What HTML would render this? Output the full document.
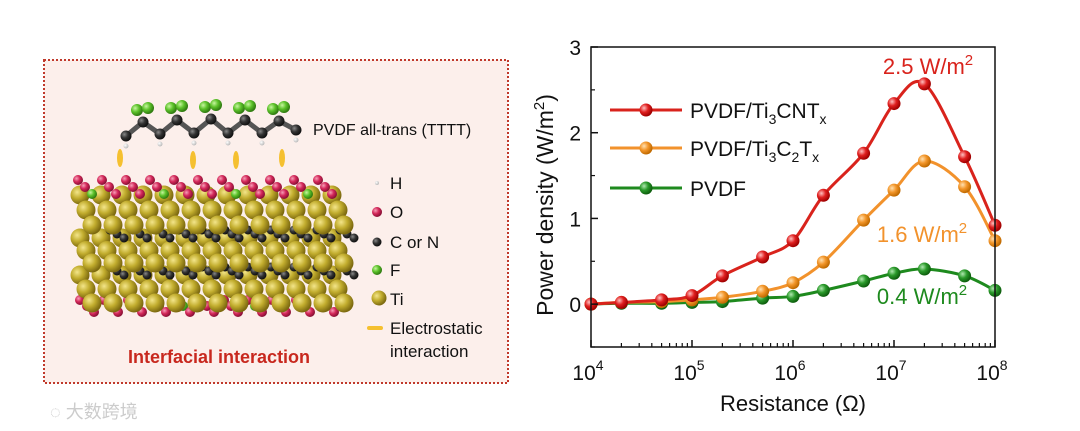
<!DOCTYPE html>
<html><head><meta charset="utf-8"><style>
body{margin:0;background:#fff;width:1080px;height:431px;overflow:hidden;font-family:"Liberation Sans","Noto Sans CJK SC",sans-serif}
svg{position:absolute;left:0;top:0}
</style></head><body>
<svg id="s" width="1080" height="431" viewBox="0 0 1080 431">
<defs>
<radialGradient id="gTi" cx="35%" cy="35%" r="65%"><stop offset="0" stop-color="#f3e58a"/><stop offset="0.5" stop-color="#c2ad2e"/><stop offset="1" stop-color="#7d6a10"/></radialGradient>
<radialGradient id="gO" cx="35%" cy="35%" r="65%"><stop offset="0" stop-color="#f6a0b8"/><stop offset="0.5" stop-color="#d4285a"/><stop offset="1" stop-color="#8a1035"/></radialGradient>
<radialGradient id="gC" cx="35%" cy="35%" r="65%"><stop offset="0" stop-color="#888"/><stop offset="0.5" stop-color="#333"/><stop offset="1" stop-color="#111"/></radialGradient>
<radialGradient id="gF" cx="35%" cy="35%" r="65%"><stop offset="0" stop-color="#c8f5a0"/><stop offset="0.5" stop-color="#5cc22a"/><stop offset="1" stop-color="#2f7a10"/></radialGradient>
<radialGradient id="gH" cx="35%" cy="35%" r="65%"><stop offset="0" stop-color="#fff"/><stop offset="1" stop-color="#bbb"/></radialGradient>
<radialGradient id="gR" cx="35%" cy="35%" r="65%"><stop offset="0" stop-color="#ffc0c0"/><stop offset="0.5" stop-color="#e02020"/><stop offset="1" stop-color="#a00000"/></radialGradient>
<radialGradient id="gOr" cx="35%" cy="35%" r="65%"><stop offset="0" stop-color="#ffe0b0"/><stop offset="0.5" stop-color="#f3962a"/><stop offset="1" stop-color="#c06a00"/></radialGradient>
<radialGradient id="gG" cx="35%" cy="35%" r="65%"><stop offset="0" stop-color="#b0e8b0"/><stop offset="0.5" stop-color="#2a9a2a"/><stop offset="1" stop-color="#0e5e0e"/></radialGradient>
</defs>
<rect x="44" y="60" width="464" height="323" fill="#fcefeb" stroke="#c0392b" stroke-width="2" stroke-dasharray="2,2"/>
<g id="mol"></g>
<text x="313" y="135" font-size="16" fill="#111">PVDF all-trans (TTTT)</text>
<g font-size="17" fill="#111">
<circle cx="377" cy="183" r="2" fill="url(#gH)"/><text x="390" y="189">H</text>
<circle cx="377" cy="212" r="5" fill="url(#gO)"/><text x="390" y="218">O</text>
<circle cx="377" cy="242" r="4.5" fill="url(#gC)"/><text x="390" y="248">C or N</text>
<circle cx="377" cy="270" r="5" fill="url(#gF)"/><text x="390" y="276">F</text>
<circle cx="379" cy="298" r="7.5" fill="url(#gTi)"/><text x="390" y="305">Ti</text>
<rect x="367" y="326" width="16" height="4" rx="2" fill="#f5c030"/><text x="390" y="334">Electrostatic</text><text x="390" y="357">interaction</text>
</g>
<text x="128" y="363" font-size="18" font-weight="bold" fill="#c8281e">Interfacial interaction</text>
<text x="50" y="418" font-size="18" fill="#ccc">◌ 大数跨境</text>
<g id="chart"></g>
</svg>
<script>
const resistances=[1e4,2e4,5e4,1e5,2e5,5e5,1e6,2e6,5e6,1e7,2e7,5e7,1e8];
const ti3cnt=[0,0.02,0.05,0.1,0.33,0.55,0.74,1.27,1.76,2.34,2.57,1.72,0.92];
const ti3c2=[0,0.02,0.03,0.05,0.08,0.15,0.25,0.49,0.98,1.33,1.67,1.37,0.74];
const pvdf=[0,0.01,0.01,0.02,0.03,0.07,0.09,0.16,0.27,0.36,0.41,0.33,0.16];
const yTicks=[0,1,2,3];
const xTickExp=[4,5,6,7,8];
const seriesNames=["PVDF/Ti3CNTx","PVDF/Ti3C2Tx","PVDF"];
const peakLabels=["2.5 W/m","1.6 W/m","0.4 W/m"];

const NS="http://www.w3.org/2000/svg";
function mk(t,a,p){const e=document.createElementNS(NS,t);for(const k in a)e.setAttribute(k,a[k]);p.appendChild(e);return e;}
const X0=591,X1=995,Y0=347,Y1=47,ymin=-0.5,ymax=3;
const sx=v=>X0+(Math.log10(v)-4)/4*(X1-X0);
const sy=v=>Y0-(v-ymin)/(ymax-ymin)*(Y0-Y1);
const C=document.getElementById('chart');

function smooth(pts){let d=`M${pts[0][0]},${pts[0][1]}`;for(let i=0;i<pts.length-1;i++){const p0=pts[i-1]||pts[i],p1=pts[i],p2=pts[i+1],p3=pts[i+2]||p2;const c1=[p1[0]+(p2[0]-p0[0])/6,p1[1]+(p2[1]-p0[1])/6],c2=[p2[0]-(p3[0]-p1[0])/6,p2[1]-(p3[1]-p1[1])/6];d+=`C${c1[0]},${c1[1]} ${c2[0]},${c2[1]} ${p2[0]},${p2[1]}`;}return d;}
const colors=["#d9231c","#f2922c","#1e8a1e"],grads=["url(#gR)","url(#gOr)","url(#gG)"];
const data=[ti3cnt,ti3c2,pvdf];
[2,1,0].forEach(si=>{
  const pts=resistances.map((r,i)=>[sx(r),sy(data[si][i])]);
  const p=mk('path',{d:smooth(pts),fill:'none',stroke:colors[si],'stroke-width':3},C);
  
  
  pts.forEach((q,i)=>{const c=mk('circle',{cx:q[0],cy:q[1],r:6.5,fill:grads[si]},C);
    
    });
});
const box=mk('rect',{x:X0,y:Y1,width:X1-X0,height:Y0-Y1,fill:'none',stroke:'#111','stroke-width':1.5},C);


yTicks.forEach(v=>{mk('line',{x1:X0,x2:X0+7,y1:sy(v),y2:sy(v),stroke:'#111','stroke-width':1.5},C);
  const t=mk('text',{x:X0-10,y:sy(v)+8,'font-size':21,'text-anchor':'end',fill:'#111'},C);t.textContent=v;
  
  });
[-0.5,0.5,1.5,2.5].forEach(v=>mk('line',{x1:X0,x2:X0+4,y1:sy(v),y2:sy(v),stroke:'#111','stroke-width':1.2},C));
xTickExp.forEach(e=>{const x=sx(Math.pow(10,e));mk('line',{x1:x,x2:x,y1:Y0,y2:Y0-7,stroke:'#111','stroke-width':1.5},C);
  const t=mk('text',{x:x-3,y:Y0+33,'font-size':21,'text-anchor':'middle',fill:'#111'},C);t.innerHTML='10<tspan dy="-10" font-size="14">'+e+'</tspan>';
  
  
  if(e<8)for(let m=2;m<10;m++){const xm=sx(m*Math.pow(10,e));mk('line',{x1:xm,x2:xm,y1:Y0,y2:Y0-4,stroke:'#111','stroke-width':1.2},C);}});
let t=mk('text',{x:793,y:411,'font-size':22,'text-anchor':'middle',fill:'#111'},C);t.textContent='Resistance (Ω)';

t=mk('text',{x:0,y:0,'font-size':23,'text-anchor':'middle',fill:'#111',transform:'translate(553,205) rotate(-90)'},C);t.innerHTML='Power density (W/m<tspan dy="-9" font-size="15">2</tspan><tspan dy="9">)</tspan>';

const legY=[110,148,188];
const legHTML=['PVDF/Ti<tspan dy="6" font-size="14">3</tspan><tspan dy="-6">CNT</tspan><tspan dy="6" font-size="14">x</tspan>','PVDF/Ti<tspan dy="6" font-size="14">3</tspan><tspan dy="-6">C</tspan><tspan dy="6" font-size="14">2</tspan><tspan dy="-6">T</tspan><tspan dy="6" font-size="14">x</tspan>','PVDF'];
seriesNames.forEach((n,i)=>{
  const g=mk('g',{},C);
  mk('line',{x1:610,x2:682,y1:legY[i],y2:legY[i],stroke:colors[i],'stroke-width':3},g);
  mk('circle',{cx:646,cy:legY[i],r:6.5,fill:grads[i]},g);
  const tt=mk('text',{x:690,y:legY[i]+8,'font-size':21,fill:'#111'},g);tt.innerHTML=legHTML[i];
});
const annX=[928,922,922],annY=[74,242,304];
peakLabels.forEach((l,i)=>{const a=mk('text',{x:annX[i],y:annY[i],'font-size':22,'text-anchor':'middle',fill:colors[i]},C);
  a.innerHTML=l+'<tspan dy="-9" font-size="15">2</tspan>';
  });

const M=document.getElementById('mol');
function atom(x,y,r,f){mk('circle',{cx:x,cy:y,r:r,fill:f},M);}
for(let i=0;i<11;i++){for(let k=0;k<3;k++){atom(80+i*24+k*7,300+k*6,5,(i%3==1&&k==1)?'url(#gF)':'url(#gO)');}}
const tiBands=[[275,303],[238,263],[195,225]];
tiBands.forEach((b,bi)=>{
  for(let row=0;row<3;row++)for(let i=0;i<13;i++){atom(80+i*21+row*6,b[0]+row*(b[1]-b[0])/2,9.5,'url(#gTi)');}
  if(bi<2){for(let i=0;i<11;i++)for(let k=0;k<3;k++)atom(110+i*23+k*7,b[0]-8+k*4,4.5,'url(#gC)');}
});
for(let i=0;i<11;i++){for(let k=0;k<3;k++){atom(78+i*24+k*7,180+k*7,5,(i%3==0&&k==2)?'url(#gF)':'url(#gO)');}}
[[120,158],[193,160],[236,160],[282,158]].forEach(p=>mk('ellipse',{cx:p[0],cy:p[1],rx:3,ry:9,fill:'#f5c030'},M));
const chain=[[126,136],[143,122],[160,134],[177,120],[194,133],[211,119],[228,133],[245,120],[262,133],[279,121],[296,130]];
mk('polyline',{points:chain.map(p=>p.join(',')).join(' '),fill:'none',stroke:'#555','stroke-width':5},M);
chain.forEach((p,i)=>{atom(p[0],p[1],5.5,'url(#gC)');if(i%2==1){atom(p[0]-6,p[1]-12,6,'url(#gF)');atom(p[0]+5,p[1]-14,6,'url(#gF)');}else atom(p[0],p[1]+10,2.5,'url(#gH)');});
</script>
</body></html>
